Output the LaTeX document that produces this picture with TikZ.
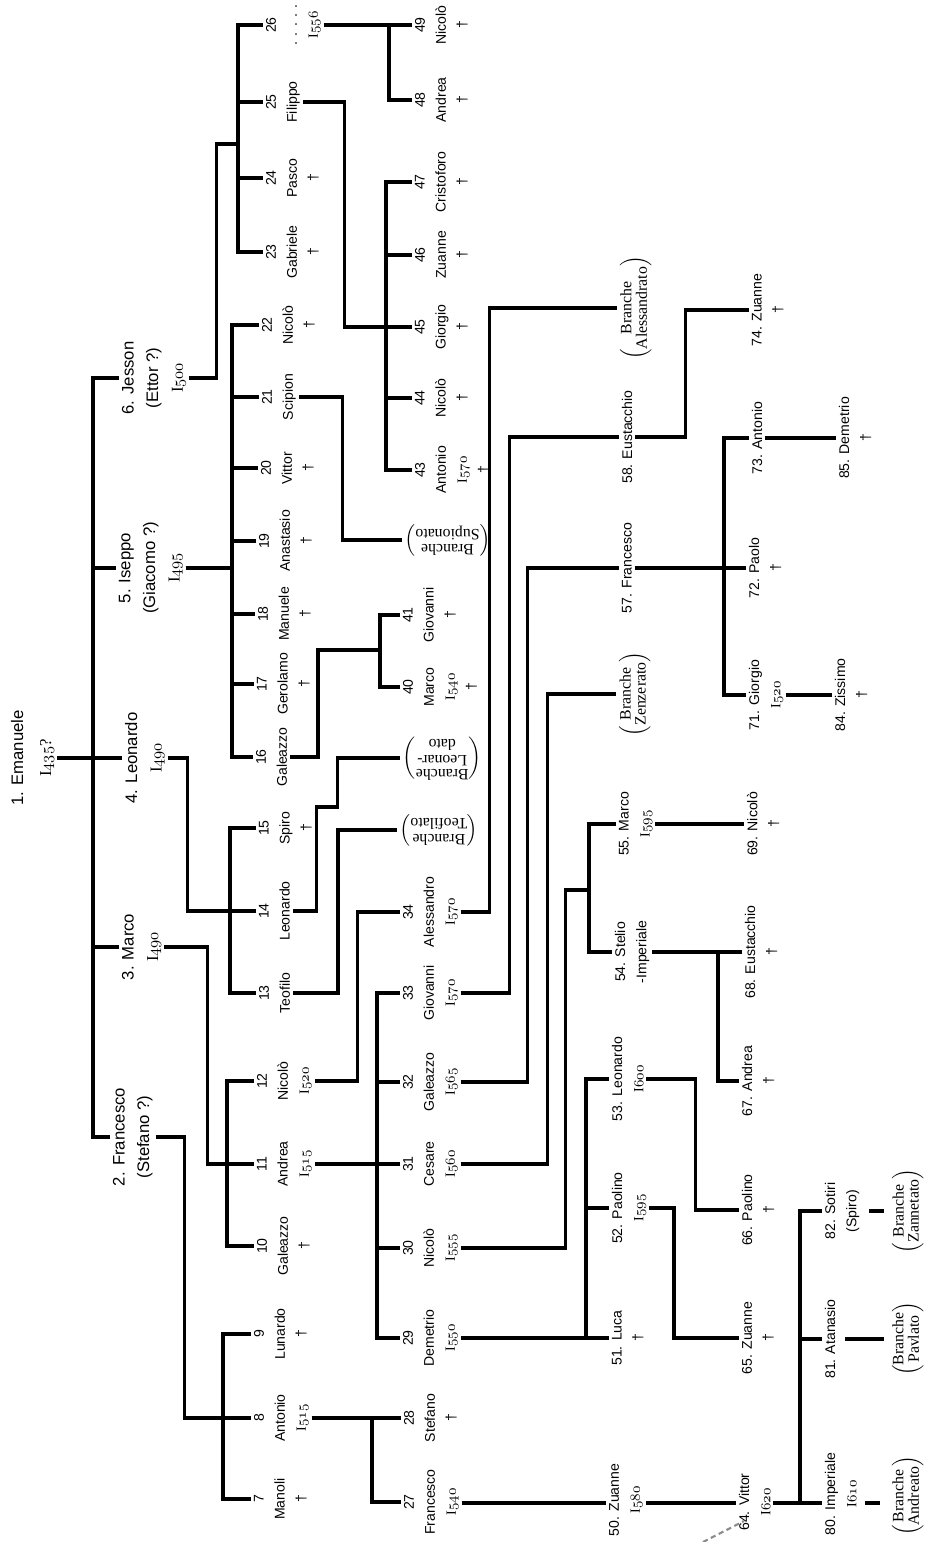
\documentclass[tikz,border=0pt]{standalone}
\usepackage{fontspec}
\setmainfont{Liberation Serif}
\setsansfont{Liberation Sans}
\newcommand\oldfig[1]{{\usefont{OML}{cmm}{m}{it}#1}}
\newcommand\yr[1]{{\rmfamily I}\oldfig{#1}}
\newcommand\branche[1]{$\left(\begin{tabular}{@{}c@{}}#1\end{tabular}\right)$}

\begin{document}
\begin{tikzpicture}[x=0.02cm, y=-0.02cm, font=\sffamily,
    kin/.style={line width=1.8pt},
    head/.style={rotate=90, anchor=north, inner sep=1.5pt, align=center, font=\fontsize{9.5}{14}\selectfont\sffamily},
    gen/.style={rotate=90, anchor=north, inner sep=1.5pt, align=center, font=\fontsize{8}{12}\selectfont\sffamily},
    branch/.style={rotate=90, anchor=north, inner sep=1.5pt, font=\fontsize{9}{8.5}\selectfont\rmfamily},
    branchturned/.style={rotate=180, anchor=east, inner sep=1.5pt, font=\fontsize{9}{8.5}\selectfont\rmfamily}]

    % Define custom colors
    \definecolor{penmark}{RGB}{140, 140, 140}

    \path[use as bounding box] (0,0) rectangle (924,1542);

    % 1. Founder and his sons
    \node[head, font=\fontsize{9.5}{16}\selectfont\sffamily] (p1) at (8,758) {1. Emanuele\\\yr{435}{\rmfamily ?}};
    \node[head] (p6) at (119,378) {6. Jesson\\(Ettor ?)\\\yr{500}};
    \node[head] (p5) at (116,568) {5. Iseppo\\(Giacomo ?)\\\yr{495}};
    \node[head] (p4) at (122,758) {4. Leonardo\\\yr{490}};
    \node[head] (p3) at (119,947) {3. Marco\\\yr{490}};
    \node[head] (p2) at (110,1137) {2. Francesco\\(Stefano ?)};

    % 2. Third generation
    \node[gen] (p26) at (263,25) {26\\. . . . .\\\yr{556}};
    \node[gen] (p25) at (263,102) {25\\Filippo};
    \node[gen] (p24) at (263,178) {24\\Pasco\\†};
    \node[gen] (p23) at (263,252) {23\\Gabriele\\†};
    \node[gen] (p22) at (259,325) {22\\Nicolò\\†};
    \node[gen] (p21) at (259,397) {21\\Scipion};
    \node[gen] (p20) at (258,468) {20\\Vittor\\†};
    \node[gen] (p19) at (256,541) {19\\Anastasio\\†};
    \node[gen] (p18) at (255,614) {18\\Manuele\\†};
    \node[gen] (p17) at (254,684) {17\\Gerolamo\\†};
    \node[gen] (p16) at (253,757) {16\\Galeazzo};
    \node[gen] (p15) at (256,828) {15\\Spiro\\†};
    \node[gen] (p14) at (256,911) {14\\Leonardo};
    \node[gen] (p13) at (256,993) {13\\Teofilo};
    \node[gen] (p12) at (254,1081) {12\\Nicolò\\\yr{520}};
    \node[gen] (p11) at (254,1164) {11\\Andrea\\\yr{515}};
    \node[gen] (p10) at (254,1246) {10\\Galeazzo\\†};
    \node[gen] (p9) at (251,1334) {9\\Lunardo\\†};
    \node[gen] (p8) at (251,1418) {8\\Antonio\\\yr{515}};
    \node[gen] (p7) at (251,1499) {7\\Manoli\\†};

    % 3. Fourth generation
    \node[gen] (p49) at (412,25) {49\\Nicolò\\†};
    \node[gen] (p48) at (412,100) {48\\Andrea\\†};
    \node[gen] (p47) at (412,182) {47\\Cristoforo\\†};
    \node[gen] (p46) at (412,255) {46\\Zuanne\\†};
    \node[gen] (p45) at (412,327) {45\\Giorgio\\†};
    \node[gen] (p44) at (412,398) {44\\Nicolò\\†};
    \node[gen] (p43) at (412,470) {43\\Antonio\\\yr{570}\\†};
    \node[gen] (p41) at (400,615) {41\\Giovanni\\†};
    \node[gen] (p40) at (400,687) {40\\Marco\\\yr{540}\\†};
    \node[gen] (p34) at (400,912) {34\\Alessandro\\\yr{570}};
    \node[gen] (p33) at (400,993) {33\\Giovanni\\\yr{570}};
    \node[gen] (p32) at (400,1082) {32\\Galeazzo\\\yr{565}};
    \node[gen] (p31) at (400,1164) {31\\Cesare\\\yr{560}};
    \node[gen] (p30) at (400,1248) {30\\Nicolò\\\yr{555}};
    \node[gen] (p29) at (400,1338) {29\\Demetrio\\\yr{550}};
    \node[gen] (p28) at (401,1418) {28\\Stefano\\†};
    \node[gen] (p27) at (401,1502) {27\\Francesco\\\yr{540}};

    % Branches written upside down
    \node[branchturned] (brSup) at (402,540) {\branche{Branche\\Supionato}};
    \node[branchturned] (brLeo) at (400,758) {\branche{Branche\\Leonar-\\dato}};
    \node[branchturned] (brTeo) at (397,830) {\branche{Branche\\Teofilato}};

    % 4. Fifth generation
    \node[branch] (brAle) at (617,308) {\branche{Branche\\Alessandrato}};
    \node[gen] (p58) at (619,437) {58. Eustacchio};
    \node[gen] (p57) at (619,568) {57. Francesco};
    \node[branch] (brZen) at (616,694) {\branche{Branche\\Zenzerato}};
    \node[gen] (p55) at (616,824) {55. Marco\\\yr{595}};
    \node[gen] (p54) at (612,952) {54. Stelio\\-Imperiale};
    \node[gen] (p53) at (609,1079) {53. Leonardo\\\yr{600}};
    \node[gen] (p52) at (609,1208) {52. Paolino\\\yr{595}};
    \node[gen] (p51) at (609,1338) {51. Luca\\†};
    \node[gen] (p50) at (606,1500) {50. Zuanne\\\yr{580}};

    % 5. Sixth generation
    \node[gen] (p74) at (749,310) {74. Zuanne\\†};
    \node[gen] (p73) at (749,438) {73. Antonio};
    \node[gen] (p72) at (746,568) {72. Paolo\\†};
    \node[gen] (p71) at (746,695) {71. Giorgio\\\yr{520}};
    \node[gen] (p69) at (744,824) {69. Nicolò\\†};
    \node[gen] (p68) at (742,952) {68. Eustacchio\\†};
    \node[gen] (p67) at (739,1081) {67. Andrea\\†};
    \node[gen] (p66) at (739,1210) {66. Paolino\\†};
    \node[gen] (p65) at (739,1338) {65. Zuanne\\†};
    \node[gen] (p64) at (736,1502) {64. Vittor\\\yr{620}};

    % 6. Seventh generation and last branches
    \node[gen] (p85) at (836,438) {85. Demetrio\\†};
    \node[gen] (p84) at (832,695) {84. Zissimo\\†};
    \node[gen] (p82) at (822,1211) {82. Sotiri\\(Spiro)};
    \node[gen] (p81) at (822,1339) {81. Atanasio};
    \node[gen] (p80) at (822,1494) {80. Imperiale\\\yr{610}};
    \node[branch] (brZan) at (889,1211) {\branche{Branche\\Zannetato}};
    \node[branch] (brPav) at (889,1339) {\branche{Branche\\Pavlato}};
    \node[branch] (brAnd) at (889,1496) {\branche{Branche\\Andreato}};

    % 7. Lines of descent
    % Emanuele
    \coordinate (r1) at (93,758);
    \draw[kin] (p1.south) -- (p4.north);
    \draw[kin] (p6.north) -| (r1) |- (p2.north);
    \draw[kin] (p5.north) -- (p5.north -| r1);
    \draw[kin] (p3.north) -- (p3.north -| r1);

    % Jesson
    \coordinate (j6) at (238,144);
    \draw[kin] (p6.south) -- ++(28,0) |- (j6);
    \draw[kin] (p26.north) -| (j6) |- (p23.north);
    \draw[kin] (p25.north) -- (p25.north -| j6);
    \draw[kin] (p24.north) -- (p24.north -| j6);

    % Iseppo
    \coordinate (j5) at (232,568);
    \draw[kin] (p5.south) -- (j5);
    \draw[kin] (p22.north) -| (j5) |- (p16.north);
    \draw[kin] (p21.north) -- (p21.north -| j5);
    \draw[kin] (p20.north) -- (p20.north -| j5);
    \draw[kin] (p19.north) -- (p19.north -| j5);
    \draw[kin] (p18.north) -- (p18.north -| j5);
    \draw[kin] (p17.north) -- (p17.north -| j5);

    % Leonardo
    \coordinate (j4) at (230,911);
    \draw[kin] (p4.south) -- ++(20,0) |- (j4);
    \draw[kin] (p15.north) -| (j4) |- (p13.north);
    \draw[kin] (p14.north) -- (j4);

    % Marco
    \coordinate (j3) at (227,1164);
    \draw[kin] (p3.south) -- ++(43,0) |- (j3);
    \draw[kin] (p12.north) -| (j3) |- (p10.north);
    \draw[kin] (p11.north) -- (j3);

    % Francesco
    \coordinate (j2) at (223,1418);
    \draw[kin] (p2.south) -- ++(29,0) |- (j2);
    \draw[kin] (p9.north) -| (j2) |- (p7.north);
    \draw[kin] (p8.north) -- (j2);

    % Third to fourth generation
    \coordinate (j26) at (389,25);
    \draw[kin] (p26.south) -- (p49.north);
    \draw[kin] (p48.north) -| (j26);

    \coordinate (j25) at (386,327);
    \draw[kin] (p25.south) -- ++(42,0) |- (j25);
    \draw[kin] (p47.north) -| (j25) |- (p43.north);
    \draw[kin] (p46.north) -- (p46.north -| j25);
    \draw[kin] (p45.north) -- (p45.north -| j25);
    \draw[kin] (p44.north) -- (p44.north -| j25);

    \draw[kin] (p21.south) -- ++(44,0) |- (brSup.east);

    \coordinate (j16) at (380,650);
    \draw[kin] (p16.south) -- ++(28,0) |- (j16);
    \draw[kin] (p41.north) -| (j16) |- (p40.north);

    \draw[kin] (p14.south) -- ++(24,0) |- ++(21,-104) |- (brLeo.east);
    \draw[kin] (p13.south) -- ++(45,0) |- (brTeo.east);
    \draw[kin] (p12.south) -- ++(43,0) |- (p34.north);

    \coordinate (j11) at (377,1164);
    \draw[kin] (p11.south) -- (p31.north);
    \draw[kin] (p33.north) -| (j11) |- (p29.north);
    \draw[kin] (p32.north) -- (p32.north -| j11);
    \draw[kin] (p30.north) -- (p30.north -| j11);

    \coordinate (j8) at (372,1418);
    \draw[kin] (p8.south) -- (p28.north);
    \draw[kin] (j8) |- (p27.north);

    % Fourth to fifth generation
    \draw[kin] (p34.south) -- ++(29,0) |- (brAle.north);
    \draw[kin] (p33.south) -- ++(49,0) |- (p58.north);
    \draw[kin] (p32.south) -- ++(67,0) |- (p57.north);
    \draw[kin] (p31.south) -- ++(87,0) |- (brZen.north);

    \coordinate (j30) at (589,890);
    \draw[kin] (p30.south) -- ++(105,0) |- (j30);
    \draw[kin] (p55.north) -| (j30) |- (p54.north);

    \coordinate (j29) at (586,1338);
    \draw[kin] (p29.south) -- (p51.north);
    \draw[kin] (p53.north) -| (j29);
    \draw[kin] (p52.north) -- (p52.north -| j29);

    \coordinate (j27) at (606,1503);
    \draw[kin] (p27.south |- j27) -- (p50.north |- j27);

    % Fifth to sixth generation
    \draw[kin] (p58.south) -- ++(50,0) |- (p74.north);

    \coordinate (j57) at (724,568);
    \draw[kin] (p57.south) -- (p72.north);
    \draw[kin] (p73.north) -| (j57) |- (p71.north);

    \draw[kin] (p55.south) -- (p69.north);

    \coordinate (j54) at (718,952);
    \draw[kin] (p54.south) -- (p68.north);
    \draw[kin] (j54) |- (p67.north);

    \draw[kin] (p53.south) -- ++(49,0) |- (p66.north);
    \draw[kin] (p52.south) -- ++(25,0) |- (p65.north);
    \draw[kin] (p50.south |- j27) -- (p64.north |- j27);

    % Sixth to seventh generation
    \draw[kin] (p73.south) -- (p85.north);
    \draw[kin] (p71.south) -- (p84.north);

    \coordinate (j64) at (800,1503);
    \draw[kin] (p64.south |- j64) -- (p80.north |- j64);
    \draw[kin] (j64) |- (p82.north);
    \draw[kin] (p81.north) -- (p81.north -| j64);

    % Last branches
    \draw[kin, shorten <=4pt, shorten >=3pt] (p82.south) -- (brZan.north);
    \draw[kin, shorten <=4pt, shorten >=3pt] (p81.south) -- (brPav.north);
    \draw[kin, shorten <=3pt, shorten >=5pt] (p80.south |- j64) -- (brAnd.north |- j64);

    % 8. Pen mark near Vittor
    \draw[penmark, densely dashed, line width=1.2pt] (703,1542) -- (744,1521);

\end{tikzpicture}
\end{document}
